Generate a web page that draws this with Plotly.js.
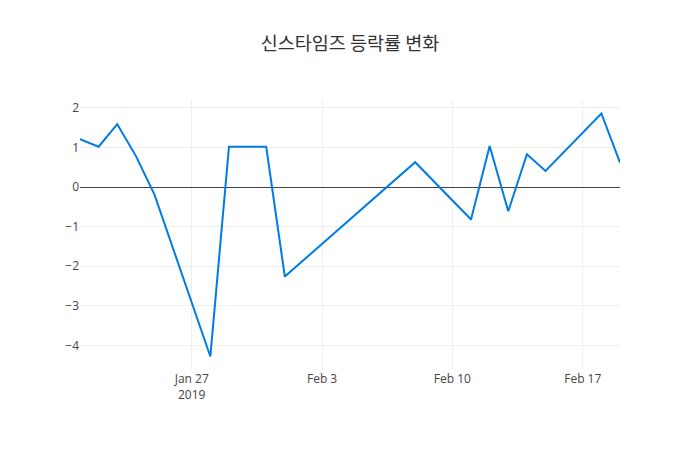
<!DOCTYPE html>
<html><head><meta charset="utf-8">
<script src="https://cdn.plot.ly/plotly-3.0.1.min.js"></script>
<style>body{margin:0}</style>
</head><body>
<div id="chart" style="width:700px;height:450px"></div>
<script>
const dates = ["2019-01-21","2019-01-22","2019-01-23","2019-01-24","2019-01-25","2019-01-28","2019-01-29","2019-01-30","2019-01-31","2019-02-01","2019-02-08","2019-02-11","2019-02-12","2019-02-13","2019-02-14","2019-02-15","2019-02-18","2019-02-19"];
const changes = [1.21, 1.02, 1.59, 0.79, -0.19, -4.28, 1.02, 1.02, 1.02, -2.26, 0.63, -0.82, 1.04, -0.61, 0.83, 0.41, 1.86, 0.62];
const titleText = "신스타임즈 등락률 변화";

Plotly.newPlot("chart", [{
  x: dates, y: changes, type: "scatter", mode: "lines",
  line: {color: "rgb(0,123,230)", width: 2}
}], {
  width: 700, height: 450,
  title: {text: titleText, font: {family: "Noto Sans CJK KR, Open Sans, sans-serif", size: 18.5, color: "#333"}},
  font: {family: "Open Sans, sans-serif", color: "#444"},
  margin: {l: 80, r: 80, t: 100, b: 80},
  xaxis: {type: "date", gridcolor: "#eee", showgrid: true},
  yaxis: {gridcolor: "#eee", zeroline: true, zerolinecolor: "#444", zerolinewidth: 1},
  showlegend: false,
  paper_bgcolor: "white", plot_bgcolor: "white"
}, {displayModeBar: false});
</script>
</body></html>
